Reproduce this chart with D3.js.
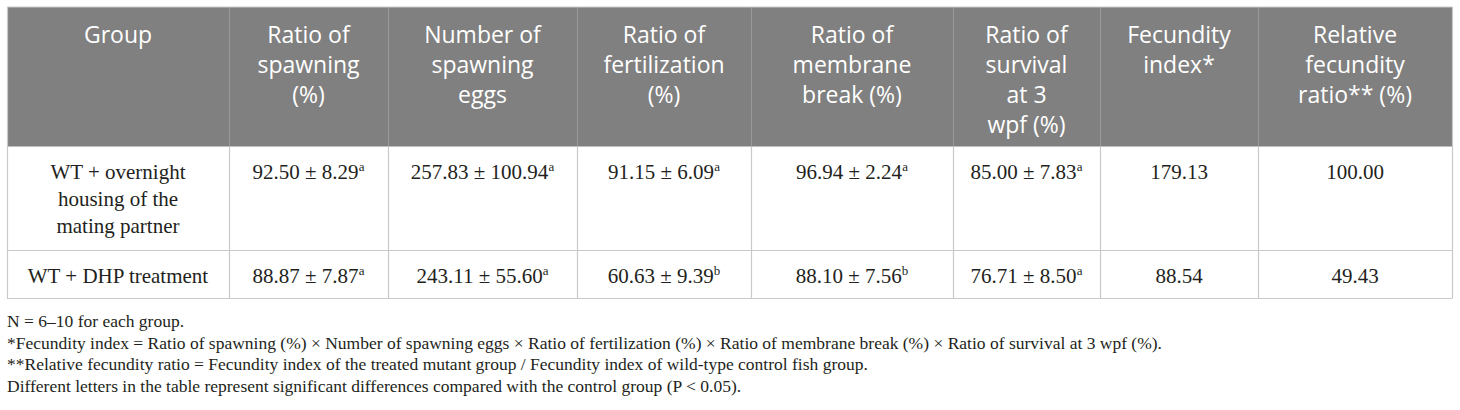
<!DOCTYPE html>
<html>
<head>
<meta charset="utf-8">
<script src="https://cdn.jsdelivr.net/npm/d3@7"></script>
<style>
  html, body { margin: 0; padding: 0; background: #fff; }
  svg { display: block; }
</style>
</head>
<body>
<svg id="tbl"></svg>
<script>
// table contents
var headers = [
	["Group"],
	["Ratio of", "spawning", "(%)"],
	["Number of", "spawning", "eggs"],
	["Ratio of", "fertilization", "(%)"],
	["Ratio of", "membrane", "break (%)"],
	["Ratio of", "survival", "at 3", "wpf (%)"],
	["Fecundity", "index*"],
	["Relative", "fecundity", "ratio** (%)"]
];
var groups = [["WT + overnight", "housing of the", "mating partner"], ["WT + DHP treatment"]];

var spawningMean = [92.50, 88.87], spawningSD = [8.29, 7.87], spawningSig = ["a", "a"];
var eggsMean = [257.83, 243.11], eggsSD = [100.94, 55.60], eggsSig = ["a", "a"];
var fertMean = [91.15, 60.63], fertSD = [6.09, 9.39], fertSig = ["a", "b"];
var membraneMean = [96.94, 88.10], membraneSD = [2.24, 7.56], membraneSig = ["a", "b"];
var survivalMean = [85.00, 76.71], survivalSD = [7.83, 8.50], survivalSig = ["a", "a"];
var fecundityIndex = [179.13, 88.54];
var relativeRatio = [100.00, 49.43];

var footnotes = [
	"N = 6\u201310 for each group.",
	"*Fecundity index = Ratio of spawning (%) \u00d7 Number of spawning eggs \u00d7 Ratio of fertilization (%) \u00d7 Ratio of membrane break (%) \u00d7 Ratio of survival at 3 wpf (%).",
	"**Relative fecundity ratio = Fecundity index of the treated mutant group / Fecundity index of wild-type control fish group.",
	"Different letters in the table represent significant differences compared with the control group (P < 0.05)."
];

var W = 1460, H = 410;
var svg = d3.select("#tbl").attr("width", W).attr("height", H);

// layout
var edges = [7, 229, 388, 577, 751, 953, 1100, 1258, 1452];
var rowEdges = [7, 146.5, 250.5, 298.5];
var sans = "'Open Sans', 'Noto Sans', sans-serif";
var serif = "'Liberation Serif', 'DejaVu Serif', serif";
var fmt = d3.format(".2f");

var cx = function(i){ return (edges[i] + edges[i + 1]) / 2; };

// header
svg.append("rect")
	.attr("x", edges[0]).attr("y", rowEdges[0])
	.attr("width", edges[edges.length - 1] - edges[0]).attr("height", rowEdges[1] - rowEdges[0])
	.attr("fill", "#808080");

var hdr = svg.append("g").attr("class", "header");
hdr.selectAll("line")
	.data(edges.slice(1, -1))
	.join("line")
	.attr("x1", function(d){ return d + 0.5; }).attr("x2", function(d){ return d + 0.5; })
	.attr("y1", rowEdges[0]).attr("y2", rowEdges[1])
	.attr("stroke", "#999").attr("stroke-width", 1);

hdr.selectAll("text")
	.data(headers)
	.join("text")
	.attr("text-anchor", "middle")
	.attr("font-family", sans).attr("font-size", 23)
	.attr("fill", "#fff")
	.each(function(lines, i){
		d3.select(this).selectAll("tspan")
			.data(lines)
			.join("tspan")
			.attr("x", cx(i))
			.attr("y", function(d, j){ return 43 + j * 30; })
			.text(function(d){ return d; });
	});

// body cells
var cells = [];
groups.forEach(function(g, r){
	cells.push({r: r, c: 0, lines: g});
	[[spawningMean, spawningSD, spawningSig], [eggsMean, eggsSD, eggsSig], [fertMean, fertSD, fertSig],
	 [membraneMean, membraneSD, membraneSig], [survivalMean, survivalSD, survivalSig]].forEach(function(s, k){
		cells.push({r: r, c: k + 1, lines: [fmt(s[0][r]) + " \u00b1 " + fmt(s[1][r])], sup: s[2][r]});
	});
	cells.push({r: r, c: 6, lines: [fmt(fecundityIndex[r])]});
	cells.push({r: r, c: 7, lines: [fmt(relativeRatio[r])]});
});

var body = svg.append("g").attr("class", "body");
body.selectAll("text")
	.data(cells)
	.join("text")
	.attr("text-anchor", "middle")
	.attr("font-family", serif).attr("font-size", 21)
	.attr("fill", "#231f20")
	.each(function(d){
		var t = d3.select(this);
		d.lines.forEach(function(line, j){
			t.append("tspan")
				.attr("x", cx(d.c))
				.attr("y", rowEdges[d.r + 1] + 32 + j * 27)
				.text(line);
		});
		if(d.sup){
			t.append("tspan").attr("font-size", 13).attr("dy", -8).text(d.sup);
		}
	});

// grid lines
var gridColor = "#c9c9c9";
var grid = svg.append("g").attr("class", "grid");
grid.selectAll("line.v")
	.data(edges)
	.join("line").attr("class", "v")
	.attr("x1", function(d){ return d + 0.5; }).attr("x2", function(d){ return d + 0.5; })
	.attr("y1", function(d, i){ return (i === 0 || i === edges.length - 1) ? rowEdges[0] : rowEdges[1]; })
	.attr("y2", rowEdges[3])
	.attr("stroke", gridColor).attr("stroke-width", 1.2);
grid.selectAll("line.h")
	.data([rowEdges[0], rowEdges[2], rowEdges[3]])
	.join("line").attr("class", "h")
	.attr("x1", edges[0]).attr("x2", edges[edges.length - 1])
	.attr("y1", function(d){ return d; }).attr("y2", function(d){ return d; })
	.attr("stroke", gridColor).attr("stroke-width", 1.2);

// footnotes
svg.append("g").attr("class", "notes")
	.selectAll("text")
	.data(footnotes)
	.join("text")
	.attr("x", 7)
	.attr("y", function(d, i){ return 327 + i * 21.6; })
	.attr("font-family", serif).attr("font-size", 17.5)
	.attr("fill", "#231f20")
	.text(function(d){ return d; });
</script>
</body>
</html>
